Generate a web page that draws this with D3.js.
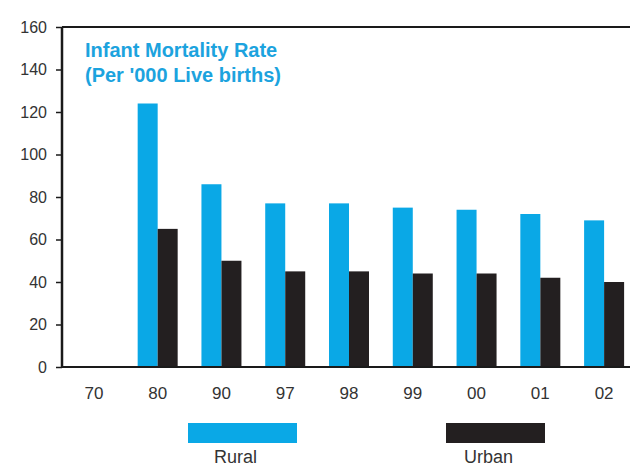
<!DOCTYPE html>
<html>
<head>
<meta charset="utf-8">
<script src="https://cdn.jsdelivr.net/npm/d3@7"></script>
<style>
  body { margin: 0; background: #fff; }
  svg { display: block; font-family: "Liberation Sans", Arial, sans-serif; }
</style>
</head>
<body>
<div class="chart"></div>
<script>
const years = ["70", "80", "90", "97", "98", "99", "00", "01", "02"]
const rural = [null, 124, 86, 77, 77, 75, 74, 72, 69]
const urban = [null, 65, 50, 45, 45, 44, 44, 42, 40]
const yTicks = [0, 20, 40, 60, 80, 100, 120, 140, 160]
const seriesNames = ["Rural", "Urban"]

const colors = {
  rural: "#0aa8e6",
  urban: "#231f20",
  title: "#1ca3de",
  axis: "#1a1a1a",
  text: "#333333"
}

const width = 630
const height = 467
const margin = { top: 27, left: 62, bottom: 100 }
const plotRight = 636

const data = years.map((y, i) => ({ year: y, Rural: rural[i], Urban: urban[i] }))

const xScale = d3.scaleBand()
  .domain(years)
  .range([margin.left, plotRight])

const subScale = d3.scaleBand()
  .domain(seriesNames)
  .range([-20, 20])

const yScale = d3.scaleLinear()
  .domain([0, 160])
  .range([height - margin.bottom, margin.top])

const colorScale = d3.scaleOrdinal()
  .domain(seriesNames)
  .range([colors.rural, colors.urban])

const svg = d3.select(".chart").append("svg")
    .attr("width", width)
    .attr("height", height)

// bars
const groups = svg.selectAll(".group")
  .data(data)
  .join("g")
    .attr("class", "group")
    .attr("transform", d => `translate(${xScale(d.year) + xScale.bandwidth() / 2},0)`)

groups.selectAll("rect")
  .data(d => seriesNames.map(k => ({ key: k, value: d[k] })).filter(v => v.value != null))
  .join("rect")
    .attr("x", d => subScale(d.key))
    .attr("width", subScale.bandwidth())
    .attr("y", d => yScale(d.value))
    .attr("height", d => yScale(0) - yScale(d.value))
    .attr("fill", d => colorScale(d.key))

// y axis
const yAxis = d3.axisLeft(yScale)
  .tickValues(yTicks)
  .tickSize(6)
  .tickPadding(9)

svg.append("g")
    .attr("transform", `translate(${margin.left},0)`)
    .call(yAxis)
    .call(g => g.select(".domain").remove())
    .call(g => g.selectAll(".tick line").attr("stroke", colors.axis).attr("stroke-width", 1.5))
    .call(g => g.selectAll(".tick text")
      .attr("fill", colors.text)
      .style("font-size", "16px")
      .style("font-family", "'Liberation Sans', Arial, sans-serif"))

// frame lines: left axis, top border, baseline
svg.append("line")
    .attr("x1", margin.left).attr("x2", margin.left)
    .attr("y1", yScale(160)).attr("y2", yScale(0))
    .attr("stroke", colors.axis).attr("stroke-width", 2.5)
svg.append("line")
    .attr("x1", margin.left).attr("x2", plotRight)
    .attr("y1", yScale(160)).attr("y2", yScale(160))
    .attr("stroke", colors.axis).attr("stroke-width", 2)
svg.append("line")
    .attr("x1", margin.left).attr("x2", plotRight)
    .attr("y1", yScale(0)).attr("y2", yScale(0))
    .attr("stroke", colors.axis).attr("stroke-width", 2)

// x labels
svg.append("g").selectAll("text")
  .data(years)
  .join("text")
    .attr("x", d => xScale(d) + xScale.bandwidth() / 2)
    .attr("y", yScale(0) + 32)
    .attr("text-anchor", "middle")
    .attr("fill", colors.text)
    .style("font-size", "17px")
    .text(d => d)

// title
const title = svg.append("text")
    .attr("fill", colors.title)
    .style("font-size", "20px")
    .style("font-weight", "bold")
title.append("tspan").attr("x", 85).attr("y", 57).text("Infant Mortality Rate")
title.append("tspan").attr("x", 85).attr("y", 82).text("(Per '000 Live births)")

// legend
const legend = [
  { name: "Rural", x: 188, w: 109 },
  { name: "Urban", x: 446, w: 99 }
]
const legendG = svg.selectAll(".legend")
  .data(legend)
  .join("g")
    .attr("class", "legend")
legendG.append("rect")
    .attr("x", d => d.x)
    .attr("y", 423)
    .attr("width", d => d.w)
    .attr("height", 20)
    .attr("fill", d => colorScale(d.name))
legendG.append("text")
    .attr("x", d => d.x + d.w / 2 - 7)
    .attr("y", 463)
    .attr("text-anchor", "middle")
    .attr("fill", colors.text)
    .style("font-size", "18px")
    .text(d => d.name)
</script>
</body>
</html>
